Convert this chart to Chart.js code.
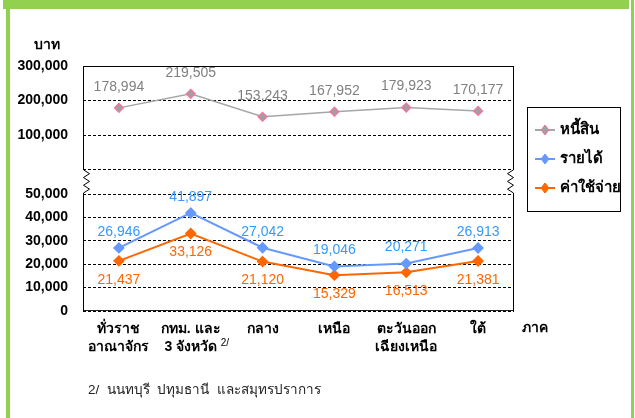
<!DOCTYPE html>
<html>
<head>
<meta charset="utf-8">
<script src="https://cdn.jsdelivr.net/npm/chart.js@4/dist/chart.umd.min.js"></script>
<style>
  html, body { margin: 0; padding: 0; background: #fff; }
  #wrap { position: relative; width: 635px; height: 418px; overflow: hidden; }
  #chart { position: absolute; left: 0; top: 0; }
  .green { position: absolute; background: #92D050; }
</style>
</head>
<body>
<div id="wrap">
  <canvas id="chart" width="635" height="418"></canvas>
  <div class="green" style="left:3px;top:0;width:626px;height:9px;"></div>
  <div class="green" style="left:6px;top:0;width:4px;height:418px;"></div>
  <div class="green" style="left:631px;top:0;width:3px;height:418px;"></div>
</div>
<script>
const regions = [["ทั่วราช", "อาณาจักร"], ["กทม. และ", "3 จังหวัด"], "กลาง", "เหนือ", ["ตะวันออก", "เฉียงเหนือ"], "ใต้"];
const seriesNames = ["หนี้สิน", "รายได้", "ค่าใช้จ่าย"];
const debt = [178994, 219505, 153243, 167952, 179923, 170177];
const income = [26946, 41897, 27042, 19046, 20271, 26913];
const expense = [21437, 33126, 21120, 15329, 16513, 21381];
const upperTicks = [0, 100000, 200000, 300000];
const lowerTicks = [0, 10000, 20000, 30000, 40000, 50000];

const FONT = '"Liberation Sans", Arial, sans-serif';
const fmt = v => v.toLocaleString("en-US");

// numbers above / below each point
const valueLabels = {
  id: "valueLabels",
  afterDatasetsDraw(chart) {
    const c = chart.ctx;
    chart.data.datasets.forEach((ds, i) => {
      chart.getDatasetMeta(i).data.forEach((pt, j) => {
        c.save();
        c.font = "14px " + FONT;
        c.fillStyle = ds.labelColor;
        c.textAlign = "center";
        c.textBaseline = "middle";
        c.fillText(fmt(ds.data[j]), pt.x, pt.y + ds.labelOffset);
        c.restore();
      });
    });
  }
};

// plot frame with the axis break, legend box and extra texts
const decorations = {
  id: "decorations",
  afterDraw(chart) {
    const c = chart.ctx;
    const a = chart.chartArea;
    const breakTop = chart.scales.yTop.getPixelForValue(0);
    const breakBottom = chart.scales.yBottom.getPixelForValue(50000) - 1;
    c.save();
    c.strokeStyle = "#000";
    c.lineWidth = 1;
    c.beginPath();
    c.moveTo(a.left, a.top + 0.5);
    c.lineTo(a.right, a.top + 0.5);
    c.stroke();
    c.strokeStyle = "#222";
    c.beginPath();
    c.moveTo(a.left, a.bottom - 0.5);
    c.lineTo(a.right, a.bottom - 0.5);
    c.stroke();

    c.strokeStyle = "#000";
    [[a.left + 0.5, 1], [a.right - 0.5, -1]].forEach(([x, dir]) => {
      c.beginPath();
      c.moveTo(x, a.top);
      c.lineTo(x, breakTop);
      const h = (breakBottom - breakTop) / 6;
      for (let k = 1; k <= 6; k++) {
        c.lineTo(k % 2 ? x + dir * 6 : x, breakTop + k * h);
      }
      c.lineTo(x, a.bottom);
      c.stroke();
    });

    // legend
    const lx = a.right + 13;
    const ly = a.top + 41;
    c.strokeStyle = "#000";
    c.strokeRect(lx + 0.5, ly + 0.5, 93, 104);
    chart.data.datasets.forEach((ds, i) => {
      const y = ly + 23 + i * 29;
      c.strokeStyle = ds.borderColor;
      c.lineWidth = 2;
      c.beginPath();
      c.moveTo(lx + 8, y);
      c.lineTo(lx + 28, y);
      c.stroke();
      c.fillStyle = ds.pointBackgroundColor;
      c.strokeStyle = ds.pointBorderColor;
      c.lineWidth = 1;
      c.beginPath();
      c.moveTo(lx + 18, y - 5);
      c.lineTo(lx + 22, y);
      c.lineTo(lx + 18, y + 5);
      c.lineTo(lx + 14, y);
      c.closePath();
      c.fill();
      c.stroke();
      c.fillStyle = "#000";
      c.font = "bold 15px " + FONT;
      c.textAlign = "left";
      c.textBaseline = "middle";
      c.fillText(ds.label, lx + 33, y);
    });

    c.fillStyle = "#000";
    c.font = "bold 14px " + FONT;
    c.textAlign = "center";
    c.textBaseline = "middle";
    c.fillText("บาท", 47, 45);
    c.fillText("ภาค", a.right + 21, a.bottom + 17);

    const x1 = chart.scales.x.getPixelForValue(1);
    c.font = "10px " + FONT;
    c.textAlign = "left";
    c.fillText("2/", x1 + 30, a.bottom + 32);

    c.font = "13.5px " + FONT;
    c.fillStyle = "#222";
    c.fillText("2/  นนทบุรี  ปทุมธานี  และสมุทรปราการ", 88, 390);
    c.restore();
  }
};

const ctx = document.getElementById("chart").getContext("2d");
new Chart(ctx, {
  type: "line",
  data: {
    labels: regions,
    datasets: [
      {
        label: seriesNames[0],
        data: debt,
        yAxisID: "yTop",
        borderColor: "#A6A6A6",
        borderWidth: 1.5,
        pointStyle: "rectRot",
        pointRadius: 4.5,
        pointBackgroundColor: "#A0A0A0",
        pointBorderColor: "#FF6F9F",
        pointBorderWidth: 1.2,
        labelColor: "#808080",
        labelOffset: -21
      },
      {
        label: seriesNames[1],
        data: income,
        yAxisID: "yBottom",
        borderColor: "#6699FF",
        borderWidth: 2,
        pointStyle: "rectRot",
        pointRadius: 4.5,
        pointBackgroundColor: "#6699FF",
        pointBorderColor: "#6699FF",
        labelColor: "#3399FF",
        labelOffset: -16
      },
      {
        label: seriesNames[2],
        data: expense,
        yAxisID: "yBottom",
        borderColor: "#FF6600",
        borderWidth: 2,
        pointStyle: "rectRot",
        pointRadius: 4.5,
        pointBackgroundColor: "#FF6600",
        pointBorderColor: "#FF6600",
        labelColor: "#FF6600",
        labelOffset: 19
      }
    ]
  },
  options: {
    responsive: false,
    animation: false,
    layout: { padding: { top: 66, right: 121, left: 0, bottom: 0 } },
    plugins: { legend: { display: false }, tooltip: { enabled: false } },
    scales: {
      x: {
        offset: true,
        grid: { display: false },
        border: { display: false },
        ticks: {
          color: "#000",
          font: { family: FONT, size: 14, weight: "bold", lineHeight: 1.3 },
          padding: 1,
          maxRotation: 0,
          autoSkip: false
        },
        afterFit(s) { s.height = 107; }
      },
      // stacked scales: the last one defined is placed on top
      yBottom: {
        position: "left",
        stack: "v",
        stackWeight: 117,
        min: 0,
        max: 50000,
        afterBuildTicks(s) { s.ticks = lowerTicks.map(v => ({ value: v })); },
        grid: { color: "#000", drawTicks: false },
        border: { display: false, dash: [3, 2] },
        ticks: {
          color: "#000",
          font: { family: FONT, size: 14, weight: "bold" },
          padding: 15,
          autoSkip: false,
          callback: v => fmt(v)
        },
        afterFit(s) { s.width = 83; }
      },
      yTop: {
        position: "left",
        stack: "v",
        stackWeight: 128,
        min: -70000,
        max: 300000,
        afterBuildTicks(s) { s.ticks = upperTicks.map(v => ({ value: v })); },
        grid: { color: "#000", drawTicks: false },
        border: { display: false, dash: [3, 2] },
        ticks: {
          color: "#000",
          font: { family: FONT, size: 14, weight: "bold" },
          padding: 15,
          autoSkip: false,
          callback: v => (v === 0 ? "" : fmt(v))
        },
        afterFit(s) { s.width = 83; }
      }
    }
  },
  plugins: [valueLabels, decorations]
});
</script>
</body>
</html>
